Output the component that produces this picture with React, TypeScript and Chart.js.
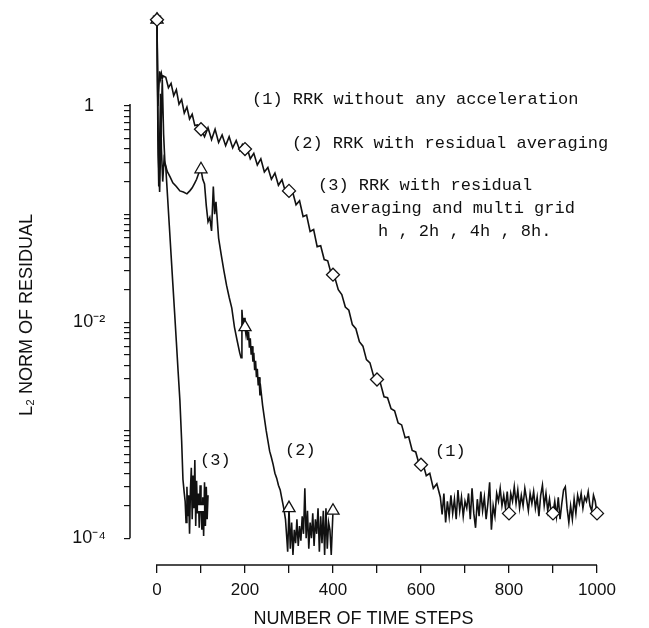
import { useEffect, useRef } from "react";
import { Chart, registerables } from "chart.js";

Chart.register(...registerables);

// ---------- data ----------
// (1) RRK without any acceleration
const steps1 = [
  0, 2, 4, 6, 8, 10, 12, 14, 20, 26,
  32, 38, 44, 50, 56, 62, 68, 74, 80, 86,
  92, 100, 108, 116, 124, 132, 140, 148, 156, 164,
  172, 180, 188, 194, 200, 204, 212, 220, 228, 236,
  244, 252, 260, 268, 276, 284, 292, 300, 308, 316,
  324, 332, 340, 348, 356, 364, 372, 380, 388, 396,
  400, 404, 412, 420, 428, 436, 444, 452, 460, 468,
  476, 484, 492, 500, 508, 516, 524, 532, 540, 548,
  556, 564, 572, 580, 588, 596, 600, 604, 612, 620,
  628, 636, 644, 648,
  652, 656, 660, 664, 668, 672, 676, 680, 684, 688,
  692, 696, 700, 704, 708, 712, 716, 720, 724, 728,
  732, 736, 740, 744, 748, 752, 756, 760, 764, 768,
  772, 776, 780, 784, 788, 792, 796, 800, 804, 808,
  812, 816, 820, 824, 828, 832, 836, 840, 844, 848,
  852, 856, 860, 864, 868, 872, 876, 880, 884, 888,
  892, 896, 900, 904, 908, 912, 916, 920, 924, 928,
  932, 936, 940, 944, 948, 952, 956, 960, 964, 968,
  972, 976, 980, 984, 988, 992, 996, 1000,
];
const resid1 = [
  6.3, 1.0, 1.4, 2.1, 1.8, 2.0, 1.8, 1.9, 1.85, 1.48,
  1.62, 1.25, 1.42, 1.04, 1.15, 0.86, 0.98, 0.76, 0.84, 0.66,
  0.67, 0.61, 0.52, 0.63, 0.49, 0.61, 0.46, 0.54, 0.43, 0.52,
  0.41, 0.48, 0.39, 0.44, 0.4, 0.42, 0.325, 0.365, 0.285, 0.325,
  0.245, 0.27, 0.21, 0.24, 0.185, 0.208, 0.16, 0.164, 0.162, 0.122,
  0.133, 0.095, 0.098, 0.069, 0.072, 0.05, 0.051, 0.038, 0.037, 0.028,
  0.0275, 0.026, 0.02, 0.018, 0.0138, 0.0129, 0.0095, 0.0087, 0.0066, 0.006,
  0.0045, 0.0042, 0.0032, 0.00295, 0.0027, 0.00204, 0.002, 0.00158, 0.00151, 0.00117,
  0.00112, 0.00085, 0.00087, 0.00065, 0.00063, 0.00048, 0.00048, 0.0005, 0.00038, 0.0004,
  0.00029, 0.00032, 0.00024, 0.000166,
  2.6e-4, 1.4e-4, 2.2e-4, 1.6e-4, 2.5e-4, 1.7e-4, 2.3e-4, 1.5e-4, 2.8e-4, 1.8e-4,
  2.4e-4, 1.6e-4, 2.2e-4, 1.9e-4, 2.6e-4, 1.5e-4, 2.9e-4, 1.7e-4, 1.25e-4, 2.3e-4,
  1.6e-4, 2.7e-4, 1.8e-4, 2.4e-4, 1.5e-4, 2.1e-4, 3.3e-4, 1.2e-4, 2.0e-4, 1.6e-4,
  2.6e-4, 2.2e-4, 2.9e-4, 2.0e-4, 2.5e-4, 1.9e-4, 2.7e-4, 1.7e-4, 2.6e-4, 2.2e-4,
  3.0e-4, 2.1e-4, 2.8e-4, 1.9e-4, 2.5e-4, 2.0e-4, 2.9e-4, 2.3e-4, 1.8e-4, 2.6e-4,
  2.1e-4, 2.7e-4, 1.9e-4, 2.4e-4, 1.6e-4, 2.5e-4, 3.1e-4, 2.0e-4, 2.6e-4, 1.8e-4,
  2.3e-4, 1.7e-4, 1.7e-4, 2.2e-4, 1.6e-4, 2.4e-4, 1.5e-4, 2.1e-4, 2.8e-4, 3.0e-4,
  1.9e-4, 1.4e-4, 2.0e-4, 1.5e-4, 2.3e-4, 1.7e-4, 2.5e-4, 2.1e-4, 2.6e-4, 1.9e-4,
  2.4e-4, 2.2e-4, 2.7e-4, 2.0e-4, 1.8e-4, 2.5e-4, 2.2e-4, 1.7e-4,
];
const markers1 = [0, 100, 200, 300, 400, 500, 600, 800, 900, 1000];

// (2) RRK with residual averaging
const steps2 = [
  0, 3, 6, 9, 12, 15, 18, 23, 30, 36,
  44, 52, 60, 68, 75, 80, 86, 90, 95, 100,
  104, 108, 112, 116, 120, 124, 128, 131, 134, 140,
  146, 152, 158, 164, 170, 176, 182, 188, 191, 193,
  196, 198, 200, 202, 204, 206, 208, 210, 212, 214,
  216, 218, 220, 222, 224, 226, 228, 230, 232, 234,
  236, 240, 244, 248, 252, 256, 260, 264, 268, 272,
  276, 280, 284, 288, 292, 295, 297, 300, 303, 306,
  309, 312, 315, 318, 321, 324, 327, 330, 333, 336,
  339, 342, 345, 348, 351, 354, 357, 360, 363, 366,
  369, 372, 375, 378, 381, 384, 387, 390, 393, 396,
  400,
];
const resid2 = [
  6.3, 0.35, 0.16, 0.55, 1.75, 0.55, 0.3, 0.25, 0.22, 0.195,
  0.18, 0.164, 0.16, 0.154, 0.165, 0.175, 0.195, 0.21, 0.24, 0.26,
  0.21, 0.19, 0.12, 0.085, 0.093, 0.07, 0.18, 0.1, 0.13, 0.06,
  0.042, 0.03, 0.022, 0.017, 0.0135, 0.009, 0.0068, 0.0052, 0.0047, 0.013,
  0.0085, 0.011, 0.009, 0.0078, 0.0095, 0.0068, 0.0082, 0.0058, 0.0071, 0.005,
  0.006, 0.0043, 0.0052, 0.0036, 0.0044, 0.0031, 0.0037, 0.0026, 0.0031, 0.0021,
  0.0024, 0.0017, 0.0013, 0.001, 0.0008, 0.00064, 0.00056, 0.00048, 0.0004, 0.00036,
  0.00031, 0.00028, 0.00023, 0.00019, 0.00015, 0.0001, 0.000075, 0.00019, 0.00008, 0.00014,
  0.00007, 0.00012, 0.00009, 0.00015, 0.000085, 0.00013, 0.000095, 0.00016, 0.00011, 0.00029,
  0.0001, 0.00018, 0.00008, 0.00014, 0.0001, 0.00017, 0.000085, 0.00015, 0.00011, 0.00019,
  0.000075, 0.00016, 0.00009, 0.00018, 0.00007, 0.00019, 0.00008, 0.00014, 0.00012, 0.00007,
  0.00018,
];
const markers2 = [0, 100, 200, 300, 400];

// (3) RRK with residual averaging and multi grid h, 2h, 4h, 8h
const steps3 = [
  0, 2, 4, 6, 8, 10, 13, 16, 20, 24,
  28, 32, 36, 40, 44, 48, 52, 56, 59, 62,
  64, 66, 68, 70, 72, 74, 76, 78, 80, 82,
  84, 86, 88, 90, 92, 94, 96, 98, 100, 102,
  104, 106, 108, 110, 112, 114, 116,
];
const resid3 = [
  6.3, 0.55, 0.18, 0.45, 1.3, 0.4, 0.2, 0.32, 0.27, 0.145,
  0.078, 0.042, 0.0226, 0.0123, 0.0066, 0.0035, 0.0019, 0.0008, 0.00035, 0.00026,
  0.00022, 0.00014, 0.0003, 0.00016, 0.00025, 0.00011, 0.00028, 0.00045, 0.00015, 0.00038,
  0.00019, 0.00053, 0.00013, 0.00034, 0.00017, 0.00026, 0.000125, 0.00031, 0.00019, 0.00012,
  0.00024, 0.000105, 0.00033, 0.00013, 0.0003, 0.00015, 0.00025,
];
const markers3 = [0, 100];

// axes
const xTickValues = [0, 100, 200, 300, 400, 500, 600, 700, 800, 900, 1000];
const xTickLabels = ["0", "", "200", "", "400", "", "600", "", "800", "", "1000"];
const yLabelValues = [1, 1e-2, 1e-4];
const yLabelTexts = ["1", "10\u207B\u00B2", "10\u207B\u2074"];
const xTitle = "NUMBER OF TIME STEPS";
const yTitle = "L\u2082 NORM OF RESIDUAL";

// annotations
const legendTexts = [
  "(1) RRK without any acceleration",
  "(2) RRK with residual averaging",
  "(3) RRK with residual",
  "averaging and multi grid",
  "h , 2h , 4h , 8h.",
];
const curveLabels = ["(1)", "(2)", "(3)"];

// ---------- layout / style ----------
const INK = "#111";
const SANS = '"Liberation Sans", Arial, Helvetica, sans-serif';
const MONO = '"Liberation Mono", "Courier New", monospace';
const X_MIN = -61.36;
const X_MAX = 1000;
const Y_MIN = 5.66e-5;
const Y_MAX = 8.03;

const legendPos = [
  [252, 99],
  [292, 143],
  [318, 185],
  [330, 208],
  [378, 231],
];
const curveLabelPos = [
  [435, 451],
  [285, 450],
  [200, 460],
];

function yMinorTicks(): number[] {
  const out: number[] = [];
  for (let d = -4; d < 0; d++) {
    for (let m = 1; m < 10; m++) out.push(m * Math.pow(10, d));
  }
  out.push(1);
  return out;
}

function toPoints(xs: number[], ys: number[]) {
  return xs.map((x, i) => ({ x, y: ys[i] }));
}

const decorPlugin = {
  id: "decor",
  afterDraw(chart: any) {
    const { ctx, scales, chartArea } = chart;
    const x = scales.x;
    const y = scales.y;
    ctx.save();
    ctx.strokeStyle = INK;
    ctx.lineWidth = 1.5;
    // y axis line (from 1 to 1e-4)
    ctx.beginPath();
    ctx.moveTo(chartArea.left, y.getPixelForValue(1) - 2);
    ctx.lineTo(chartArea.left, y.getPixelForValue(1e-4));
    ctx.stroke();
    // x axis line (0 to 1000)
    ctx.beginPath();
    ctx.moveTo(x.getPixelForValue(0) - 1, chartArea.bottom);
    ctx.lineTo(x.getPixelForValue(1000), chartArea.bottom);
    ctx.stroke();

    ctx.fillStyle = INK;
    ctx.textBaseline = "middle";
    ctx.textAlign = "left";
    ctx.font = `17px ${MONO}`;
    legendTexts.forEach((t, i) => {
      ctx.fillText(t, legendPos[i][0], legendPos[i][1]);
    });
    curveLabels.forEach((t, i) => {
      ctx.fillText(t, curveLabelPos[i][0], curveLabelPos[i][1]);
    });

    // y title
    ctx.font = `18px ${SANS}`;
    ctx.translate(27, 315);
    ctx.rotate(-Math.PI / 2);
    ctx.textAlign = "center";
    ctx.fillText(yTitle, 0, 0);
    ctx.restore();
  },
};

function series(label: string, xs: number[], ys: number[], markers: number[], style: string, r: number) {
  return {
    label,
    data: toPoints(xs, ys),
    borderColor: INK,
    borderWidth: 1.6,
    tension: 0,
    fill: false,
    clip: false,
    pointStyle: style,
    pointRadius: (c: any) => (markers.includes(xs[c.dataIndex]) ? r : 0),
    pointHoverRadius: 0,
    pointHitRadius: 0,
    pointBackgroundColor: "#fff",
    pointBorderColor: INK,
    pointBorderWidth: 1.3,
  };
}

export default function App() {
  const ref = useRef<HTMLCanvasElement | null>(null);

  useEffect(() => {
    if (!ref.current) return;
    const yTicks = yMinorTicks();
    const chart = new Chart(ref.current, {
      type: "line",
      data: {
        datasets: [
          series("(1) RRK without any acceleration", steps1, resid1, markers1, "rectRot", 6.5),
          series("(2) RRK with residual averaging", steps2, resid2, markers2, "triangle", 7),
          series("(3) RRK with residual averaging and multi grid", steps3, resid3, markers3, "rect", 5),
        ] as any,
      },
      options: {
        animation: false,
        responsive: true,
        maintainAspectRatio: false,
        events: [],
        layout: { padding: { top: 7, right: 52, left: 0, bottom: 0 } },
        plugins: { legend: { display: false }, tooltip: { enabled: false } },
        scales: {
          x: {
            type: "linear",
            min: X_MIN,
            max: X_MAX,
            afterBuildTicks: (s: any) => {
              s.ticks = xTickValues.map((v) => ({ value: v }));
            },
            afterFit: (s: any) => {
              s.height = 63;
              s.paddingLeft = 0;
              s.paddingRight = 0;
            },
            border: { display: false },
            grid: {
              display: true,
              drawOnChartArea: false,
              drawTicks: true,
              tickLength: 8,
              color: INK,
              lineWidth: 1.3,
            },
            ticks: {
              autoSkip: false,
              maxRotation: 0,
              padding: 7,
              color: INK,
              font: { family: SANS, size: 17 },
              callback: (v: any) => {
                const i = xTickValues.indexOf(Number(v));
                return i >= 0 ? xTickLabels[i] : "";
              },
            },
            title: {
              display: true,
              text: xTitle,
              color: INK,
              font: { family: SANS, size: 18, lineHeight: 1 },
              padding: { top: 0, bottom: 0 },
            },
          },
          y: {
            type: "logarithmic",
            min: Y_MIN,
            max: Y_MAX,
            afterBuildTicks: (s: any) => {
              s.ticks = yTicks.map((v) => ({ value: v }));
            },
            afterFit: (s: any) => {
              s.width = 130;
              s.paddingTop = 0;
              s.paddingBottom = 0;
            },
            border: { display: false },
            grid: {
              display: true,
              drawOnChartArea: false,
              drawTicks: true,
              tickLength: 6,
              color: INK,
              lineWidth: 1.2,
            },
            ticks: {
              autoSkip: false,
              crossAlign: "center",
              padding: 18,
              color: INK,
              font: { family: SANS, size: 18 },
              callback: (v: any) => {
                const val = Number(v);
                const i = yLabelValues.findIndex(
                  (l) => Math.abs(Math.log10(l) - Math.log10(val)) < 1e-6
                );
                return i >= 0 ? yLabelTexts[i] : "";
              },
            },
          },
        },
      } as any,
      plugins: [decorPlugin],
    });
    return () => chart.destroy();
  }, []);

  return (
    <div style={{ position: "fixed", left: 0, top: 0, width: 649, height: 628, background: "#fff" }}>
      <canvas ref={ref} />
    </div>
  );
}
